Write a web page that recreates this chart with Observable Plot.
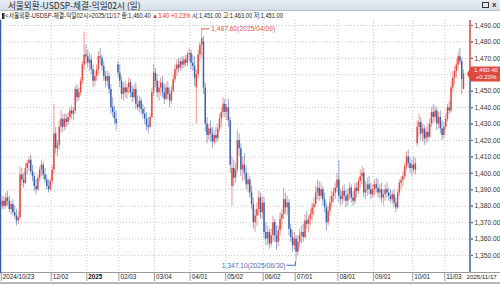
<!DOCTYPE html>
<html><head><meta charset="utf-8">
<script src="https://cdn.jsdelivr.net/npm/d3@7"></script>
<script src="https://cdn.jsdelivr.net/npm/@observablehq/plot@0.6"></script>
<style>
html,body{margin:0;padding:0;background:#fff;}
#wrap{position:relative;width:500px;height:284px;overflow:hidden;font-family:"Liberation Sans","Noto Sans CJK KR",sans-serif;}
#titlebar{position:absolute;left:0;top:0;width:500px;height:10px;background:linear-gradient(#e9eef4,#d6dee8);border-bottom:1px solid #b3bfcc;z-index:2;}
#titlebar .t{position:absolute;left:8px;top:0;font-size:8.6px;line-height:10px;color:#2a2a2a;white-space:nowrap;font-family:"Noto Sans CJK KR","Liberation Sans",sans-serif;}
#titlebar .ic{position:absolute;top:2px;width:5px;height:4px;border:1px solid #333;}
#titlebar .x{position:absolute;top:0;left:492px;font-size:8px;line-height:10px;font-weight:bold;color:#333;}
#info{position:absolute;left:2px;top:11px;font-size:7px;line-height:9px;color:#222;white-space:nowrap;z-index:2;transform-origin:0 0;font-family:"Liberation Sans","Noto Sans CJK KR",sans-serif;}
#info .r{color:#e0332c;}
#strip{position:absolute;left:0;top:272px;width:500px;height:10px;border-top:1px solid #9a9a9a;background:#fff;z-index:0;}
#foot{position:absolute;left:0;top:282px;width:500px;height:2px;background:#b9b9b9;z-index:0;}
#chart{position:absolute;left:0;top:0;z-index:1;}
</style></head>
<body>
<div id="wrap">
  <div id="strip"></div>
  <div id="foot"></div>
  <div id="chart"></div>
  <div id="titlebar"><span class="t">서울외환-USDSP-체결-익일02시 (일)</span><span class="ic" style="left:482px"></span><span class="x">x</span></div>
  <div id="info"></div>
</div>
<script>
// ---------- data (daily candles, trading-day index 0..259) ----------
const open = [
1380,1383,1380,1385,1383,1378,1381,1376,1374,1371,1373,1399,1396,1394,1403,1406,1408,1401,1398,1392,1390,1397,1402,1405,1399,1396,1392,1390,
1395,1402,1424,1415,1417,1428,1433,1428,1433,1431,1434,1438,1436,1438,1451,1446,1449,1456,1466,1472,
1471,1467,1469,1463,1456,1459,1463,1471,1470,1465,1459,1456,1459,1451,1440,1437,1433,1466,
1461,1456,1448,1452,1449,1452,1455,1449,1446,1451,1442,1440,1444,1439,1436,1433,1429,1428,1434,1449,
1461,1456,1449,1452,1455,1449,1445,1452,1448,1444,1450,1457,1463,1466,1464,1468,1466,1469,1467,1472,
1473,1467,1465,1452,1460,1472,1478,1480,1452,1430,1423,1427,1424,1419,1423,1421,1427,1433,1437,1442,
1437,1440,1432,1392,1403,1397,1402,1420,1415,1402,1405,1400,1393,1396,1388,1381,1370,1374,1378,1385,1376,
1382,1364,1360,1364,1357,1362,1370,1362,1358,1365,1372,1375,1384,1379,1382,1366,1361,1356,
1360,1352,1358,1362,1364,1361,1371,1369,1372,1375,1379,1381,1388,1391,1386,1390,1384,1379,1370,1377,1382,1386,1388,1391,
1396,1386,1384,1389,1386,1383,1387,1391,1385,1383,1391,1389,1395,1398,1400,1388,1390,1393,1390,1387,
1390,1393,1391,1388,1390,1385,1387,1390,1388,1386,1384,1387,1382,1379,1388,1394,1396,1398,1404,1410,1406,1403,
1405,1402,1418,1428,1431,1424,1427,1421,1425,1422,1430,1437,1434,1438,1430,1434,1427,1423,
1428,1433,1440,1438,1452,1458,1462,1466,1471,1468,1451];
const high = [
1386,1386,1388,1389,1386,1383,1384,1380,1378,1377,1404,1403,1400,1406,1408,1410,1411,1405,1400,1396,1399,1404,1408,1407,1403,1399,1396,1397,
1405,1442,1428,1420,1432,1438,1436,1436,1436,1437,1440,1441,1440,1453,1454,1452,1458,1468,1486,1478,
1475,1473,1472,1466,1462,1466,1474,1476,1472,1468,1462,1462,1461,1454,1446,1441,1438,1468,
1466,1459,1455,1456,1454,1458,1457,1453,1454,1455,1447,1447,1446,1442,1440,1437,1434,1436,1452,1466,
1464,1460,1456,1458,1459,1454,1455,1456,1452,1453,1460,1466,1469,1470,1470,1471,1471,1472,1474,1476,
1475,1472,1471,1463,1475,1480,1487.6,1483,1455,1434,1430,1432,1428,1426,1428,1430,1436,1440,1446,1445,
1442,1445,1434,1410,1408,1406,1426,1424,1418,1410,1412,1404,1400,1398,1392,1385,1378,1382,1389,1388,1386,
1385,1370,1368,1366,1366,1374,1372,1368,1368,1376,1378,1391,1388,1386,1384,1369,1365,1364,
1362,1362,1366,1368,1369,1375,1377,1374,1378,1382,1385,1392,1396,1395,1394,1392,1388,1382,1380,1386,1389,1391,1394,1400,
1408,1390,1392,1393,1390,1390,1394,1393,1389,1394,1394,1397,1402,1404,1403,1395,1397,1398,1394,1393,
1396,1397,1396,1393,1394,1390,1393,1394,1391,1390,1389,1390,1385,1390,1396,1398,1401,1406,1413,1414,1410,1408,
1410,1409,1432,1436,1434,1430,1429,1428,1430,1433,1440,1442,1441,1440,1437,1438,1432,1431,
1436,1442,1444,1456,1462,1465,1469,1474,1476,1470,1463];
const low = [
1378,1378,1379,1380,1376,1375,1374,1372,1368,1369,1372,1392,1391,1393,1399,1401,1399,1395,1389,1387,1389,1395,1398,1396,1394,1390,1388,1389,
1393,1400,1412,1410,1414,1424,1425,1426,1428,1429,1432,1433,1432,1436,1443,1444,1447,1454,1463,1466,
1464,1462,1460,1452,1453,1456,1460,1466,1462,1456,1452,1453,1448,1436,1434,1430,1426,1458,
1452,1445,1444,1446,1445,1448,1446,1443,1444,1439,1438,1437,1436,1433,1430,1426,1424,1427,1433,1447,
1452,1446,1444,1447,1446,1442,1444,1445,1440,1442,1449,1455,1459,1461,1462,1463,1464,1465,1465,1468,
1463,1462,1453,1430,1458,1468,1470,1448,1425,1418,1420,1419,1415,1417,1418,1419,1425,1428,1434,1434,
1432,1428,1400,1380,1392,1394,1400,1410,1398,1395,1396,1390,1388,1385,1378,1366,1364,1368,1374,1372,1372,
1360,1356,1356,1354,1355,1358,1358,1353,1355,1362,1366,1372,1375,1374,1362,1358,1352,1353,
1347.1,1350,1355,1357,1358,1360,1366,1364,1368,1371,1374,1379,1384,1383,1384,1380,1376,1365,1368,1374,1379,1382,1384,1388,
1382,1380,1381,1383,1379,1380,1384,1382,1380,1381,1385,1387,1391,1393,1385,1384,1386,1387,1384,1385,
1386,1388,1385,1384,1382,1380,1383,1385,1383,1382,1381,1379,1376,1378,1386,1390,1392,1396,1402,1403,1400,1398,
1400,1399,1416,1422,1420,1419,1417,1418,1419,1421,1428,1430,1431,1426,1427,1424,1420,1421,
1426,1431,1436,1437,1449,1454,1458,1463,1466,1448,1451];
const close = [
1383,1380,1385,1383,1378,1381,1376,1374,1371,1373,1399,1396,1394,1403,1406,1408,1401,1398,1392,1390,1397,1402,1405,1399,1396,1392,1390,1395,
1402,1424,1415,1417,1428,1433,1428,1433,1431,1434,1438,1436,1438,1451,1446,1449,1456,1466,1472,1471,
1467,1469,1463,1456,1459,1463,1471,1470,1465,1459,1456,1459,1451,1440,1437,1433,1430,1461,
1456,1448,1452,1449,1452,1455,1449,1446,1451,1442,1440,1444,1439,1436,1433,1429,1428,1434,1449,1461,
1456,1449,1452,1455,1449,1445,1452,1448,1444,1450,1457,1463,1466,1464,1468,1466,1469,1467,1472,1473,
1467,1465,1458,1460,1472,1478,1482,1452,1430,1423,1427,1424,1419,1423,1421,1427,1433,1437,1442,1437,
1440,1432,1405,1403,1397,1402,1420,1415,1402,1405,1400,1393,1396,1388,1381,1370,1374,1378,1385,1376,1382,
1364,1360,1364,1357,1362,1370,1362,1358,1365,1372,1375,1384,1379,1382,1366,1361,1356,1360,
1352,1358,1362,1364,1361,1371,1369,1372,1375,1379,1381,1388,1391,1386,1390,1384,1379,1370,1377,1382,1386,1388,1391,1396,
1386,1384,1389,1386,1383,1387,1391,1385,1383,1391,1389,1395,1398,1400,1388,1390,1393,1390,1387,1390,
1393,1391,1388,1390,1385,1387,1390,1388,1386,1384,1387,1382,1379,1388,1394,1396,1398,1404,1410,1406,1403,1405,
1402,1406,1428,1431,1424,1427,1421,1425,1422,1430,1437,1434,1438,1430,1434,1427,1423,1428,
1433,1440,1438,1452,1458,1462,1466,1471,1468,1457,1460.4];

// x-axis tick labels and the trading-day index where each one sits
const tickLabels = ["2024/10/23","12/02","2025","02/03","03/04","04/01","05/02","06/02","07/01","08/01","09/01","10/01","11/03","2025/11/17"];
const tickIndex  = [0,28,48,66,86,106,126,147,165,189,209,231,249,259];
const yTicks = [1350,1360,1370,1380,1390,1400,1410,1420,1430,1440,1450,1460,1470,1480,1490];

// header values
const seriesName = "서울외환-USDSP-체결-익일02시";
const lastDate = "2025/11/17";
const change = 3.40, changePct = 0.23;
const maxIdx = 112, maxDate = "2025/04/09";
const minIdx = 165, minDate = "2025/06/30";

// ---------- build ----------
const RED = "#e2463b", BLUE = "#3b60ab";
const candles = close.map((c, i) => ({i, o: open[i], h: high[i], l: low[i], c}));
const col = d => d.c >= d.o ? RED : BLUE;
const fmt2 = d3.format(",.2f");
const last = candles[candles.length - 1];

const tickPos = tickIndex.map(i => i - 0.5);
const labelOf = new Map(tickPos.map((p, k) => [p, tickLabels[k]]));
const FONT = "Liberation Sans, Noto Sans CJK KR, sans-serif";
// the current-price box hides the axis label it sits on
const yLabelTicks = yTicks.filter(v => Math.abs(v - last.c) > 4.5);

function priceBox(index, scales, values, dim) {
  const g = d3.create("svg:g");
  const x0 = dim.width - dim.marginRight;
  const yc = scales.y(last.c);
  const top = dim.marginTop, bot = dim.height - dim.marginBottom;
  g.append("line").attr("x1", x0).attr("x2", x0).attr("y1", top).attr("y2", yc).attr("stroke", "#d4544a").attr("stroke-width", 1.6);
  g.append("line").attr("x1", x0).attr("x2", x0).attr("y1", yc).attr("y2", bot).attr("stroke", "#4a67a8").attr("stroke-width", 1.6);
  g.append("path").attr("d", `M${x0 - 3},${yc + 0.5} L${x0 + 1},${yc - 7} H${dim.width} V${yc + 8} H${x0 + 1} Z`).attr("fill", "#dc4a3e");
  g.append("text").attr("x", x0 + 16).attr("y", yc - 1.5).attr("text-anchor", "middle").attr("fill", "#fff")
    .attr("font-size", 6.2).attr("font-family", FONT).text(fmt2(last.c));
  g.append("text").attr("x", x0 + 16).attr("y", yc + 5.8).attr("text-anchor", "middle").attr("fill", "#fff")
    .attr("font-size", 6.2).attr("font-family", FONT).text("+" + changePct.toFixed(2) + "%");
  return g.node();
}

function annotations(index, scales) {
  const g = d3.create("svg:g").attr("font-family", FONT).attr("font-size", 6.7);
  const mx = scales.x(maxIdx), my = scales.y(high[maxIdx]);
  g.append("path").attr("d", `M${mx},${my} H${mx + 8}`).attr("stroke", "#e0584a").attr("fill", "none");
  g.append("text").attr("x", mx + 10).attr("y", my + 2.3).attr("text-anchor", "start").attr("fill", "#e0584a").text(fmt2(high[maxIdx]) + "(" + maxDate + ")");
  const nx = scales.x(minIdx), ny = scales.y(low[minIdx]);
  g.append("path").attr("d", `M${nx},${ny + 1.5} V${ny + 5.5} H${nx - 9}`).attr("stroke", "#4a6fb5").attr("fill", "none");
  g.append("text").attr("x", nx - 10).attr("y", ny + 7.8).attr("text-anchor", "end").attr("fill", "#4a6fb5").text(fmt2(low[minIdx]) + "(" + minDate + ")");
  return g.node();
}

const axisCommon = {anchor: "bottom", label: null, tickSize: 0, tickPadding: 2, textAnchor: "start", fontSize: 6.3};
const chart = Plot.plot({
  width: 500, height: 284,
  marginTop: 20, marginBottom: 12, marginLeft: 0, marginRight: 30,
  x: {type: "linear", domain: [-0.98, 262.93], axis: null, label: null},
  y: {domain: [1339.65, 1493.04], axis: null, label: null},
  style: {background: "transparent", fontFamily: FONT},
  marks: [
    Plot.gridY(yTicks, {stroke: "#c9c9c9", strokeOpacity: 1, strokeDasharray: "1,2"}),
    Plot.gridX(tickPos.slice(1, -1), {stroke: "#c9c9c9", strokeOpacity: 1, strokeDasharray: "1,2"}),
    Plot.frame({anchor: "left", stroke: "#3b5c9e", strokeWidth: 1.5}),
    // wicks
    Plot.ruleX(candles, {x: "i", y1: "l", y2: "h", stroke: col, strokeOpacity: 0.55, strokeWidth: 1}),
    // bodies
    Plot.ruleX(candles, {x: "i", y1: "o", y2: "c", stroke: col, strokeWidth: 1.45}),
    // right axis: tick marks and labels
    Plot.axisY(yTicks, {anchor: "right", label: null, tickSize: 2, text: null, stroke: "#666"}),
    Plot.axisY(yLabelTicks, {anchor: "right", label: null, tickSize: 2, tickPadding: 2, tickFormat: fmt2, fontSize: 6.7, fill: "#333", stroke: "#666"}),
    // bottom axis: tick lines only
    Plot.axisX(tickPos.slice(0, -1), {anchor: "bottom", label: null, tickSize: 9, text: null, stroke: "#999"}),
    // bottom axis: labels
    Plot.axisX(tickPos.filter((p, k) => tickLabels[k] !== "2025" && k < tickPos.length - 1), {...axisCommon, dx: 1.5, fill: "#222", tickFormat: p => labelOf.get(p)}),
    Plot.axisX(tickPos.filter((p, k) => tickLabels[k] === "2025"), {...axisCommon, dx: 1.5, fontWeight: "bold", fill: "#111", tickFormat: p => labelOf.get(p)}),
    Plot.axisX(tickPos.slice(-1), {...axisCommon, dx: 4, fontSize: 6.1, fill: "#222", tickFormat: p => labelOf.get(p)}),
    annotations,
    priceBox
  ]
});
document.getElementById("chart").appendChild(chart);

// info line
document.getElementById("info").innerHTML =
  `<span style="display:inline-block;width:2px;height:6px;background:#222;border-right:1px solid #888;margin-right:1px;vertical-align:-0.5px"></span>&lt;${seriesName}&gt;${lastDate} 종:${fmt2(last.c)} <span class="r">▲${change.toFixed(2)} +${changePct.toFixed(2)}%</span> 시:${fmt2(last.o)} 고:${fmt2(last.h)} 저:${fmt2(last.l)}`;
const info = document.getElementById("info");
const w = info.getBoundingClientRect().width;
info.style.transform = `scaleX(${281 / w})`;
</script>
</body></html>
